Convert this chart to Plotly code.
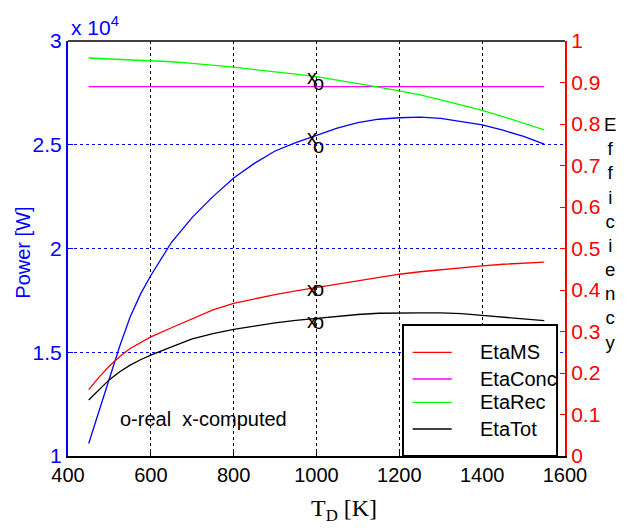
import plotly.graph_objects as go

# ---------------- data ----------------
T = [450, 475, 500, 525, 550, 575, 600, 650, 700, 750, 800, 850, 900, 950, 1000,
     1050, 1100, 1150, 1200, 1250, 1300, 1350, 1400, 1450, 1500, 1550]

power = [10600, 12200, 13800, 15300, 16700, 17800, 18700, 20300, 21500, 22500,
         23400, 24100, 24700, 25100, 25450, 25800, 26070, 26230, 26300, 26330,
         26270, 26100, 25960, 25700, 25400, 25030]

eta_ms = [0.160, 0.190, 0.217, 0.240, 0.259, 0.274, 0.287, 0.309, 0.330, 0.352,
          0.368, 0.379, 0.389, 0.398, 0.406, 0.414, 0.422, 0.430, 0.438, 0.444,
          0.449, 0.454, 0.458, 0.462, 0.465, 0.467]

eta_conc = [0.89] * len(T)

eta_rec = [0.959, 0.958, 0.957, 0.956, 0.955, 0.954, 0.953, 0.950, 0.946, 0.942,
           0.937, 0.931, 0.926, 0.920, 0.914, 0.906, 0.898, 0.889, 0.880, 0.870,
           0.858, 0.846, 0.833, 0.818, 0.802, 0.786]

eta_tot = [0.135, 0.160, 0.184, 0.203, 0.219, 0.232, 0.243, 0.263, 0.282, 0.295,
           0.305, 0.313, 0.321, 0.327, 0.332, 0.337, 0.341, 0.344, 0.345, 0.345,
           0.345, 0.343, 0.339, 0.335, 0.331, 0.326]

# measured ("o") and computed ("x") points at T = 1000 K
T_mark = 1000
power_real, power_comp = 24940, 25390
eff_real = {"EtaRec": 0.900, "EtaMS": 0.402, "EtaTot": 0.324}
eff_comp = {"EtaRec": 0.914, "EtaMS": 0.402, "EtaTot": 0.325}

x_ticks = [400, 600, 800, 1000, 1200, 1400, 1600]
power_ticks = [10000, 15000, 20000, 25000, 30000]
power_ticklabels = ["1", "1.5", "2", "2.5", "3"]

eff_names = ["EtaMS", "EtaConc", "EtaRec", "EtaTot"]
eff_series = [eta_ms, eta_conc, eta_rec, eta_tot]
eff_colors = ["#ff0000", "#ff00ff", "#00ff00", "#000000"]

# ---------------- figure ----------------
FONT = "Liberation Sans, Arial, sans-serif"
fig = go.Figure()

fig.add_trace(go.Scatter(x=T, y=power, mode="lines", yaxis="y",
                         line=dict(color="#0000ff", width=1.3), showlegend=False))
for name, ser, col in zip(eff_names, eff_series, eff_colors):
    fig.add_trace(go.Scatter(x=T, y=ser, mode="lines", yaxis="y2", name=name,
                             line=dict(color=col, width=1.3), showlegend=False))

ann = []
mk_font = dict(family=FONT, size=20, color="black")
# x/o markers
ann.append(dict(x=T_mark, y=power_comp, xref="x", yref="y", text="x", showarrow=False,
                xanchor="center", yanchor="middle", xshift=-5, font=mk_font))
ann.append(dict(x=T_mark, y=power_real, xref="x", yref="y", text="o", showarrow=False,
                xanchor="center", yanchor="middle", xshift=2, font=mk_font))
for k in eff_real:
    ann.append(dict(x=T_mark, y=eff_comp[k], xref="x", yref="y2", text="x", showarrow=False,
                    xanchor="center", yanchor="middle", xshift=-5, font=mk_font))
    ann.append(dict(x=T_mark, y=eff_real[k], xref="x", yref="y2", text="o", showarrow=False,
                    xanchor="center", yanchor="middle", xshift=2, font=mk_font))

# note text
ann.append(dict(x=520, y=11800, xref="x", yref="y", text="o-real  x-computed", showarrow=False,
                xanchor="left", yanchor="middle", font=dict(family=FONT, size=20, color="black")))

# axis labels
ann.append(dict(x=-0.0905, y=0.49, xref="paper", yref="paper", text="Power [W]", textangle=-90,
                showarrow=False, xanchor="center", yanchor="middle",
                font=dict(family=FONT, size=20, color="#0000ff")))
ann.append(dict(x=1.0905, y=0.537, xref="paper", yref="paper",
                text="<br>".join(list("Efficiency")), showarrow=False,
                xanchor="center", yanchor="middle",
                font=dict(family=FONT, size=18.6, color="black")))
ann.append(dict(x=0.002, y=1.036, xref="paper", yref="paper", text="x 10<sup>4</sup>",
                showarrow=False, xanchor="left", yanchor="middle",
                font=dict(family=FONT, size=21, color="#0000ff")))
ann.append(dict(x=0.555, y=-0.13, xref="paper", yref="paper", text="T<sub>D</sub> [K]",
                showarrow=False, xanchor="center", yanchor="middle",
                font=dict(family="Liberation Serif, Times New Roman, serif", size=24, color="black")))

# manual legend
shapes = []
shapes.append(dict(type="rect", xref="paper", yref="paper", x0=0.674, x1=0.984, y0=0.0, y1=0.3157,
                   line=dict(color="black", width=2), fillcolor="white", layer="above"))
leg_y = [0.2499, 0.1855, 0.1294, 0.0651]
for name, col, yy in zip(eff_names, eff_colors, leg_y):
    shapes.append(dict(type="line", xref="paper", yref="paper", x0=0.6935, x1=0.772, y0=yy, y1=yy,
                       line=dict(color=col, width=1.3), layer="above"))
    ann.append(dict(x=0.825, y=yy, xref="paper", yref="paper", text=name, showarrow=False,
                    xanchor="left", yanchor="middle", font=dict(family=FONT, size=20, color="black")))
# top border
shapes.append(dict(type="line", xref="paper", yref="paper", x0=0, x1=1, y0=1, y1=1,
                   line=dict(color="black", width=1.5), layer="above"))

# page body has an 8px margin: size the figure so the plot area lands where the reference has it
fig.update_layout(
    width=617, height=521,
    margin=dict(l=60, r=60, t=33, b=73),
    paper_bgcolor="white", plot_bgcolor="white",
    showlegend=False,
    font=dict(family=FONT, size=20, color="black"),
    xaxis=dict(range=[400, 1600], tickvals=x_ticks, ticks="inside", ticklen=5,
               tickcolor="black", showline=True, linecolor="black", linewidth=2,
               showgrid=True, gridcolor="black", griddash="dot", gridwidth=1,
               zeroline=False, tickfont=dict(family=FONT, size=20, color="black")),
    yaxis=dict(range=[10000, 30000], tickvals=power_ticks, ticktext=power_ticklabels,
               ticks="inside", ticklen=5, tickcolor="#0000ff", showline=True,
               linecolor="#0000ff", linewidth=2, showgrid=True, gridcolor="#0000ff",
               griddash="dot", gridwidth=1, zeroline=False,
               tickfont=dict(family=FONT, size=21, color="#0000ff")),
    yaxis2=dict(range=[0, 1], dtick=0.1, overlaying="y", side="right",
                ticks="inside", ticklen=5, tickcolor="#ff0000", showline=True,
                linecolor="#ff0000", linewidth=2, showgrid=False, zeroline=False,
                tickfont=dict(family=FONT, size=21, color="#ff0000")),
    annotations=ann, shapes=shapes,
)

fig.write_html("out.html")
